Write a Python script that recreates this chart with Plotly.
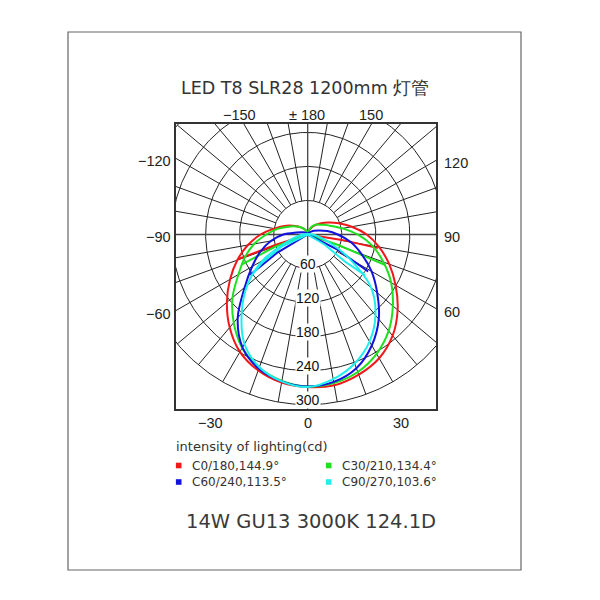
import math
import plotly.graph_objects as go

# ---------------- data ----------------
TITLE = "LED T8 SLR28 1200mm 灯管"
SUBTITLE = "14W GU13 3000K 124.1D"
LEGEND_TITLE = "intensity of lighting(cd)"

gamma = [0, 10, 20, 30, 40, 50, 60, 70, 80, 90, 100, 110, 120, 130, 140, 150, 160, 170, 180]

# luminous intensity (cd); "right" half = C0/C30/C60/C90, "left" half = C180/C210/C240/C270
c0 = [269, 270, 263, 252, 233, 207, 179, 153, 128, 104, 79, 58, 42, 31, 22, 15, 9, 4, 0]
c180 = [269, 265, 255, 239, 214, 186, 158, 132, 107, 83, 60, 44, 31, 22, 15, 10, 6, 3, 0]
c30 = [268, 266, 258, 243, 222, 196, 170, 142, 116, 88, 62, 44, 34, 27, 23, 17, 10, 5, 0]
c210 = [268, 262, 250, 231, 203, 173, 141, 118, 96, 73, 55, 39, 29, 21, 15, 10, 6, 3, 0]
c60 = [268, 264, 251, 226, 195, 160, 130, 101, 77, 53, 35, 20, 13, 8, 5, 3, 2, 1, 0]
c240 = [268, 263, 252, 230, 192, 145, 113, 89, 66, 43, 20, 12, 8, 5, 3, 2, 1, 1, 0]
c90 = [268, 259, 242, 218, 186, 146, 85, 40, 18, 8, 4, 2, 1, 1, 0, 0, 0, 0, 0]
c270 = [269, 263, 249, 223, 181, 139, 92, 40, 18, 8, 4, 2, 1, 1, 0, 0, 0, 0, 0]

# inner "wedge" strokes (angle deg, intensity cd), from the centre outwards
w_c0_g, w_c0_i = [81, 81, 79], [0, 61, 126]
w_c180_g, w_c180_i = [-72, -72, -70.5], [0, 60, 131]
w_c30_g, w_c30_i = [71, 71, 68.5], [0, 57, 147]
w_c210_g, w_c210_i = [-69.5, -69.5, -65.5], [0, 61, 128]
w_c60_g, w_c60_i = [63, 63, 58.5], [0, 60, 125]
w_c240_g, w_c240_i = [-59, -59, -55], [0, 64, 124]
w_c90_g, w_c90_i = [59, 59, 54, 54.7], [0, 36, 81, 124]
w_c270_g, w_c270_i = [-65, -65, -58, -54], [0, 51, 96, 122]

series_names = ["C0/180,144.9°", "C30/210,134.4°", "C60/240,113.5°", "C90/270,103.6°"]
series_colors = ["#f01818", "#1ee01e", "#1212e0", "#1eeeee"]

radii = [60, 120, 180, 240, 300]
radii_labels = ["60", "120", "180", "240", "300"]
spoke_step = 10

top_angles, top_texts = [-150, 180, 150], ["−150", "± 180", "150"]
left_angles, left_texts = [-120, -90, -60], ["−120", "−90", "−60"]
right_angles, right_texts = [120, 90, 60], ["120", "90", "60"]
bottom_angles, bottom_texts = [-30, 0, 30], ["−30", "0", "30"]

# ---------------- geometry ----------------
XR = [-234.0, 228.0]
YR = [-309.5, 196.6]
OFF = 8                      # page body margin of the html page
FIG = 600 - OFF
ML, MT = 175 - OFF, 123 - OFF
MR, MB = 600 - 437, 600 - 410
PW, PH = FIG - ML - MR, FIG - MT - MB


def pol(g, i):
    r = math.radians(g)
    return i * math.sin(r), -i * math.cos(r)


def px(xp):  # page pixel -> paper
    return (xp - 175) / PW


def py(yp):
    return (410 - yp) / PH


fig = go.Figure()

# grid: circles
for R in radii:
    xs, ys = [], []
    for k in range(0, 361):
        x, y = pol(k, R)
        xs.append(x)
        ys.append(y)
    fig.add_trace(go.Scatter(x=xs, y=ys, mode="lines", line=dict(color="#222", width=1),
                             hoverinfo="skip", showlegend=False))
# grid: spokes
sx, sy = [], []
for a in range(-180, 180, spoke_step):
    if a % 90 == 0:
        continue
    x0, y0 = pol(a, radii[0])
    x1, y1 = pol(a, radii[-1])
    sx += [x0, x1, None]
    sy += [y0, y1, None]
fig.add_trace(go.Scatter(x=sx, y=sy, mode="lines", line=dict(color="#222", width=1),
                         hoverinfo="skip", showlegend=False))
# cross
fig.add_trace(go.Scatter(x=[XR[0], XR[1], None, 0, 0], y=[0, 0, None, YR[1], YR[0]], mode="lines",
                         line=dict(color="#444", width=1.3), hoverinfo="skip", showlegend=False))

# curves
planes = [
    (c0, c180, (w_c0_g, w_c0_i), (w_c180_g, w_c180_i)),
    (c30, c210, (w_c30_g, w_c30_i), (w_c210_g, w_c210_i)),
    (c60, c240, (w_c60_g, w_c60_i), (w_c240_g, w_c240_i)),
    (c90, c270, (w_c90_g, w_c90_i), (w_c270_g, w_c270_i)),
]
for (right, left, wr, wl), name, col in zip(planes, series_names, series_colors):
    xs, ys = [], []
    for g, i in zip(reversed(gamma), reversed(left)):
        x, y = pol(-g, i)
        xs.append(x); ys.append(y)
    for g, i in zip(gamma[1:], right[1:]):
        x, y = pol(g, i)
        xs.append(x); ys.append(y)
    fig.add_trace(go.Scatter(x=xs, y=ys, mode="lines", line=dict(color=col, width=2, shape="spline", smoothing=0.9),
                             name=name, hoverinfo="skip", showlegend=False))
    wx, wy = [], []
    for gs, ii in (wr, wl):
        for g, i in zip(gs, ii):
            x, y = pol(g, i)
            wx.append(x); wy.append(y)
        wx.append(None); wy.append(None)
    fig.add_trace(go.Scatter(x=wx, y=wy, mode="lines", line=dict(color=col, width=2),
                             hoverinfo="skip", showlegend=False))

annotations = []
# intensity scale labels
for R, t in zip(radii, radii_labels):
    annotations.append(dict(x=0, y=-R, xref="x", yref="y", text=t, showarrow=False,
                            font=dict(family="Liberation Sans", size=14, color="#111"),
                            xanchor="center", yanchor="middle", yshift=5, bgcolor="white", borderpad=0))

AFONT = dict(family="Liberation Sans", size=14.5, color="#222")
# angle labels where the spokes meet the frame
for a, t in zip(top_angles, top_texts):
    x = -YR[1] * math.tan(math.radians(a)) if a != 180 else 0.0
    annotations.append(dict(x=x, y=YR[1], xref="x", yref="y", text=t, showarrow=False, font=AFONT,
                            xanchor="center", yanchor="middle", yshift=8,
                            xshift=(-4 if t.startswith("−") else -1)))
for a, t in zip(bottom_angles, bottom_texts):
    x = -YR[0] * math.tan(math.radians(a))
    sh = -math.copysign(8, x) if abs(x) > 1 else 0
    annotations.append(dict(x=x, y=YR[0], xref="x", yref="y", text=t, showarrow=False, font=AFONT,
                            xanchor="center", yanchor="middle", yshift=-13,
                            xshift=sh - (4 if t.startswith("−") else 0)))
for a, t in zip(left_angles, left_texts):
    y = -XR[0] / math.tan(math.radians(a))
    annotations.append(dict(x=XR[0], y=y, xref="x", yref="y", text=t, showarrow=False, font=AFONT,
                            xanchor="right", yanchor="middle", xshift=-2, yshift=-3))
for a, t in zip(right_angles, right_texts):
    y = -XR[1] / math.tan(math.radians(a))
    annotations.append(dict(x=XR[1], y=y, xref="x", yref="y", text=t, showarrow=False, font=AFONT,
                            xanchor="left", yanchor="middle", xshift=5, yshift=-3))

annotations.append(dict(x=px(305), y=py(88), xref="paper", yref="paper", text=TITLE, showarrow=False,
                        font=dict(family="DejaVu Sans", size=17.5, color="#333"), xanchor="center", yanchor="middle"))
annotations.append(dict(x=px(174), y=py(446), xref="paper", yref="paper", text=LEGEND_TITLE, showarrow=False,
                        font=dict(family="DejaVu Sans", size=13, color="#333"), xanchor="left", yanchor="middle"))
annotations.append(dict(x=px(311), y=py(521), xref="paper", yref="paper", text=SUBTITLE, showarrow=False,
                        font=dict(family="DejaVu Sans", size=19.5, color="#3a3a3a"), xanchor="center", yanchor="middle"))

shapes = []
leg_pos = [(178.7, 465.5), (328.7, 465.5), (178.7, 482), (328.7, 482)]
for (lx, ly), name, col in zip(leg_pos, series_names, series_colors):
    shapes.append(dict(type="rect", xref="paper", yref="paper", x0=px(lx - 2.8), x1=px(lx + 2.8),
                       y0=py(ly + 2.8), y1=py(ly - 2.8), fillcolor=col, line=dict(width=0)))
    annotations.append(dict(x=px(lx + 11), y=py(ly), xref="paper", yref="paper", text=name, showarrow=False,
                            font=dict(family="DejaVu Sans", size=12, color="#333"), xanchor="left", yanchor="middle"))

# plot frame and outer frame
shapes.append(dict(type="rect", xref="paper", yref="paper", x0=0, x1=1, y0=0, y1=1,
                   line=dict(color="#333", width=2)))
shapes.append(dict(type="rect", xref="paper", yref="paper", x0=px(68), x1=px(521), y0=py(570), y1=py(32),
                   line=dict(color="#666", width=1.2)))

fig.update_layout(
    width=FIG, height=FIG, autosize=False,
    margin=dict(l=ML, r=MR, t=MT, b=MB),
    paper_bgcolor="white", plot_bgcolor="white",
    xaxis=dict(range=XR, visible=False, fixedrange=True),
    yaxis=dict(range=YR, visible=False, fixedrange=True),
    annotations=annotations, shapes=shapes, showlegend=False,
)
fig.write_html("out.html")
